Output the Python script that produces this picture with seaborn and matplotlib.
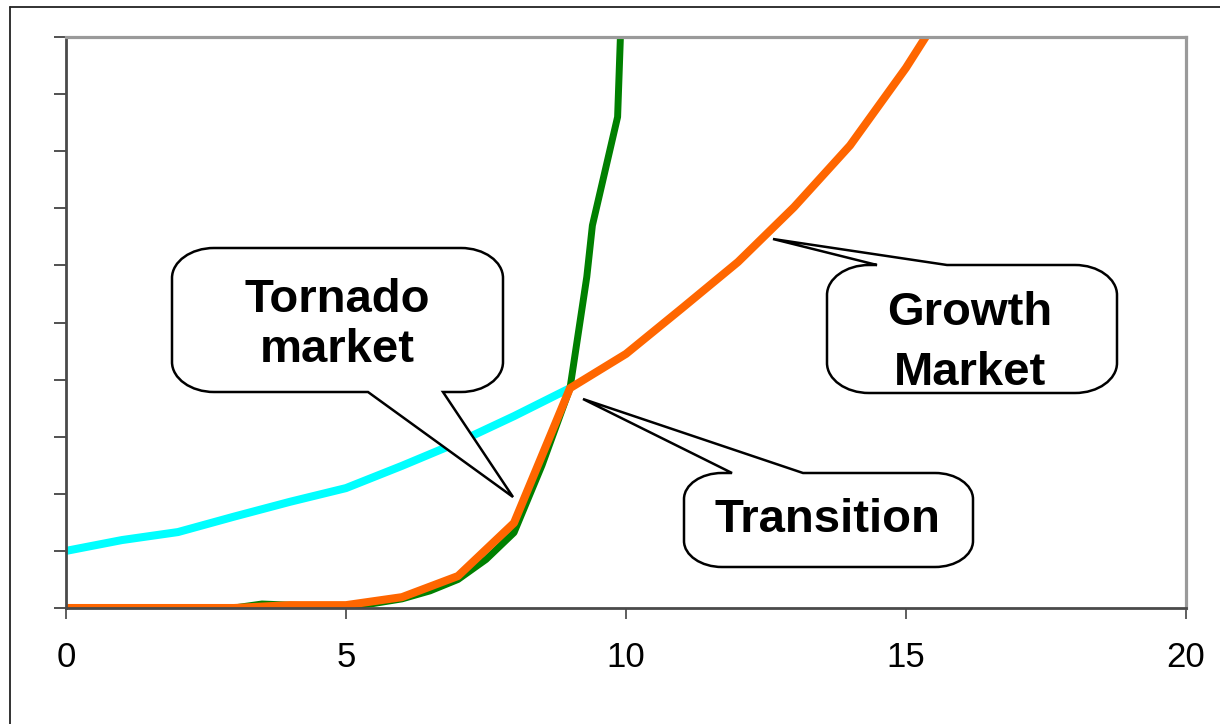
import matplotlib
matplotlib.use("Agg")
import pandas as pd
import seaborn as sns
import matplotlib.pyplot as plt
from matplotlib.path import Path
from matplotlib.patches import PathPatch
from matplotlib.transforms import Affine2D
from matplotlib.lines import Line2D

# === Data ===
cyan_x = [0, 1, 2, 3, 4, 5, 6, 7, 8, 9]
cyan_y = [1.0, 1.19, 1.33, 1.6, 1.86, 2.1, 2.49, 2.9, 3.36, 3.85]

green_x = [0, 1, 2, 3, 3.5, 4, 5, 5.5, 6, 6.5, 7, 7.5, 8, 8.5, 9, 9.3, 9.4, 9.85, 10]
green_y = [0, 0, 0, 0, 0.07, 0.05, 0.02, 0.08, 0.16, 0.3, 0.5, 0.85, 1.32, 2.5, 3.85,
           5.8, 6.7, 8.6, 12.8]

orange_x = [0, 1, 2, 3, 4, 5, 6, 7, 8, 9, 10, 11, 12, 13, 14, 15, 16]
orange_y = [0, 0, 0, 0, 0.05, 0.05, 0.19, 0.56, 1.49, 3.85, 4.45, 5.25, 6.06, 7.02,
            8.1, 9.46, 11.0]

x_ticks = [0, 5, 10, 15, 20]
y_ticks = list(range(0, 11))

W, H = 1220, 724

sns.set_style("ticks")
plt.rcParams['font.family'] = ['Liberation Sans', 'DejaVu Sans']
plt.rcParams['text.color'] = 'black'
plt.rcParams['xtick.labelcolor'] = 'black'

fig = plt.figure(figsize=(W / 100, H / 100), dpi=100)
ax = fig.add_axes([66 / W, 1 - 608 / H, (1186 - 66) / W, (608 - 37) / H])

# === Lines ===
sns.lineplot(data=pd.DataFrame({"x": cyan_x, "y": cyan_y}), x="x", y="y",
             color="#00FFFF", linewidth=5.8, solid_capstyle="round", ax=ax)
sns.lineplot(data=pd.DataFrame({"x": green_x, "y": green_y}), x="x", y="y",
             color="#008000", linewidth=5.0, solid_capstyle="round", ax=ax)
sns.lineplot(data=pd.DataFrame({"x": orange_x, "y": orange_y}), x="x", y="y",
             color="#FF6600", linewidth=5.8, solid_capstyle="round", ax=ax)

ax.set_xlim(0, 20)
ax.set_ylim(0, 10)
ax.set_xticks(x_ticks)
ax.set_xticklabels([str(t) for t in x_ticks])
ax.set_yticks(y_ticks)
ax.set_yticklabels([])
ax.set_xlabel("")
ax.set_ylabel("")
ax.tick_params(axis="x", length=8, width=1.1, color="#333333", labelsize=25,
               labelcolor="black", pad=16)
ax.tick_params(axis="y", length=8.5, width=1.1, color="#222222")

for side in ["left", "bottom"]:
    ax.spines[side].set_color("#4a4a4a")
    ax.spines[side].set_linewidth(2)
for side in ["top", "right"]:
    ax.spines[side].set_visible(True)
    ax.spines[side].set_color("#9a9a9a")
    ax.spines[side].set_linewidth(2.3)

# image pixel coords (y down) -> display
img = Affine2D().scale(1, -1).translate(0, H)

# outer frame (only top and left show in the reference)
fig.add_artist(Line2D([10, 1220], [7, 7], color="#222222", lw=1.3, transform=img))
fig.add_artist(Line2D([10, 10], [7, 724], color="#222222", lw=1.3, transform=img))


# === Callouts ===
K = 0.55


def corner(p0, corner_pt, p1):
    # elliptical-ish corner from p0 to p1 with the sharp corner at corner_pt
    c1 = (p0[0] + K * (corner_pt[0] - p0[0]), p0[1] + K * (corner_pt[1] - p0[1]))
    c2 = (p1[0] + K * (corner_pt[0] - p1[0]), p1[1] + K * (corner_pt[1] - p1[1]))
    return [c1, c2, p1], [Path.CURVE4] * 3


def callout(left, top, right, bottom, base0, base1, tip, side, rx=42, ry=30):
    v = [(left + rx, top)]
    c = [Path.MOVETO]
    if side == "top":
        v += [(base0, top), tip, (base1, top)]
        c += [Path.LINETO] * 3
    v.append((right - rx, top))
    c.append(Path.LINETO)
    cv, cc = corner((right - rx, top), (right, top), (right, top + ry))
    v += cv
    c += cc
    v.append((right, bottom - ry))
    c.append(Path.LINETO)
    cv, cc = corner((right, bottom - ry), (right, bottom), (right - rx, bottom))
    v += cv
    c += cc
    if side == "bottom":
        v += [(base1, bottom), tip, (base0, bottom)]
        c += [Path.LINETO] * 3
    v.append((left + rx, bottom))
    c.append(Path.LINETO)
    cv, cc = corner((left + rx, bottom), (left, bottom), (left, bottom - ry))
    v += cv
    c += cc
    v.append((left, top + ry))
    c.append(Path.LINETO)
    cv, cc = corner((left, top + ry), (left, top), (left + rx, top))
    v += cv
    c += cc
    v.append((0, 0))
    c.append(Path.CLOSEPOLY)
    fig.add_artist(PathPatch(Path(v, c), facecolor="white", edgecolor="black",
                             lw=1.8, joinstyle="miter", transform=img, zorder=3))


callout(172, 248, 503, 392, 368, 443, (513, 497), "bottom")
callout(684, 473, 973, 567, 732, 803, (583, 399), "top", rx=38, ry=26)
callout(827, 265, 1117, 393, 877, 947, (773, 239), "top")

label_kw = dict(fontsize=34, fontweight="bold", ha="center", va="baseline",
                color="black", transform=img, zorder=4)
fig.text(337, 312, "Tornado", **label_kw)
fig.text(337, 362, "market", **label_kw)
fig.text(827, 532, "Transition", **label_kw)
fig.text(970, 325, "Growth", **label_kw)
fig.text(970, 385, "Market", **label_kw)

fig.savefig("out.png", dpi=100, facecolor="white")
